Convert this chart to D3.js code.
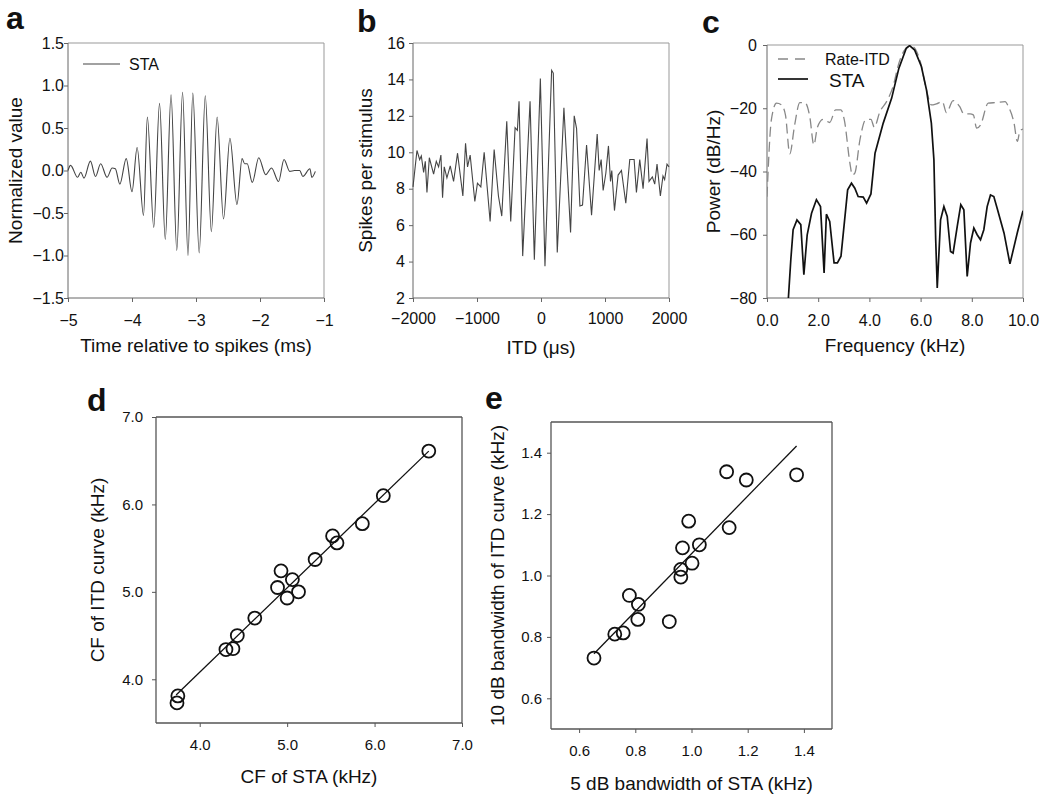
<!DOCTYPE html>
<html>
<head>
<meta charset="utf-8">
<script src="https://cdn.jsdelivr.net/npm/d3@7"></script>
<style>
  body { margin: 0; background: #fff; }
  svg text { font-family: Arial, "Liberation Sans", sans-serif; fill: #111; }
</style>
</head>
<body>
<svg id="fig" width="1050" height="795"></svg>
<script>
// panel a: spike-triggered average, [time ms, normalized value]
var staWave = [
  [-5.0, 0.0], [-4.96, 0.06], [-4.85, -0.08], [-4.80, -0.02], [-4.75, -0.09], [-4.65, 0.11],
  [-4.57, -0.07], [-4.49, 0.08], [-4.39, -0.08], [-4.31, 0.03], [-4.26, 0.02], [-4.19, -0.16],
  [-4.09, 0.14], [-4.00, -0.25], [-3.92, 0.27], [-3.82, -0.53], [-3.76, 0.63], [-3.66, -0.67],
  [-3.57, 0.79], [-3.48, -0.81], [-3.39, 0.89], [-3.30, -0.94], [-3.21, 0.92], [-3.125, -1.0],
  [-3.05, 0.91], [-2.95, -0.97], [-2.855, 0.88], [-2.76, -0.72], [-2.67, 0.63], [-2.57, -0.57],
  [-2.47, 0.38], [-2.36, -0.40], [-2.28, 0.14], [-2.24, 0.08], [-2.20, 0.08], [-2.12, -0.14],
  [-2.02, 0.15], [-1.91, -0.05], [-1.82, 0.03], [-1.71, -0.13], [-1.625, 0.13], [-1.535, -0.01],
  [-1.46, 0.0], [-1.38, 0.0], [-1.33, -0.07], [-1.22, 0.02], [-1.19, -0.08], [-1.135, -0.01]
];

// panel b: rate-ITD curve, [ITD us, spikes per stimulus]
var rateItd = [
  [-2000, 8.1], [-1938, 10.1], [-1896, 9.6], [-1870, 9.8], [-1834, 8.9], [-1808, 9.5], [-1782, 7.8],
  [-1745, 9.7], [-1678, 8.8], [-1636, 9.5], [-1600, 9.2], [-1564, 9.85], [-1538, 7.5], [-1512, 9.2],
  [-1470, 8.6], [-1418, 9.25], [-1366, 8.4], [-1304, 9.95], [-1221, 7.6], [-1179, 10.5], [-1148, 9.2],
  [-1107, 9.85], [-1034, 7.3], [-993, 8.3], [-940, 8.1], [-888, 10.0], [-795, 6.2], [-732, 10.15],
  [-665, 7.6], [-613, 6.5], [-535, 11.7], [-473, 6.2], [-405, 11.35], [-369, 11.2], [-343, 12.8],
  [-286, 4.3], [-171, 12.8], [-104, 4.1], [-10, 14.05], [62, 3.75], [166, 14.5], [192, 14.35],
  [254, 4.5], [358, 12.45], [462, 5.6], [519, 12.0], [556, 11.3], [608, 7.05], [649, 7.1],
  [712, 10.4], [790, 6.55], [878, 11.0], [909, 9.0], [940, 9.6], [971, 7.9], [1013, 8.85],
  [1054, 10.35], [1086, 8.4], [1106, 9.0], [1148, 6.8], [1205, 8.75], [1257, 9.0], [1325, 7.2],
  [1387, 9.6], [1455, 9.6], [1491, 7.8], [1543, 9.6], [1595, 8.0], [1657, 10.75], [1688, 8.4],
  [1740, 8.65], [1777, 8.25], [1813, 9.35], [1865, 7.6], [1906, 8.7], [1932, 8.5], [1969, 9.35],
  [2000, 9.2]
];

// panel c: power spectra, [kHz, dB/Hz]
var specRate = [
  [0, -48], [0.17, -23.7], [0.37, -18.4], [0.56, -18.9], [0.72, -22.1], [0.89, -34.4], [1.08, -25.3],
  [1.28, -18.2], [1.48, -18.2], [1.67, -22.6], [1.83, -31.6], [1.97, -26], [2.19, -23.5], [2.45, -24.5],
  [2.68, -20.5], [2.89, -20.5], [3.02, -23.7], [3.24, -37.4], [3.33, -41.1], [3.43, -40.5], [3.63, -30],
  [3.85, -23.7], [4.06, -23.5], [4.19, -26], [4.41, -21.1], [4.67, -17.9], [4.92, -13.2], [5.15, -5.8],
  [5.51, -0.5], [5.64, -0.3], [5.97, -4.7], [6.23, -14.2], [6.42, -18.95], [6.62, -18.6], [6.85, -17.9],
  [7.01, -21.4], [7.27, -17.6], [7.53, -19.5], [7.69, -21.8], [7.93, -21.8], [8.06, -22.1], [8.19, -26.3],
  [8.34, -25.3], [8.64, -18.4], [8.97, -18.2], [9.30, -17.9], [9.43, -19.5], [9.65, -24.7], [9.78, -30.5],
  [9.88, -27.1], [10, -26.6]
];
var specSta = [
  [0.82, -82], [0.93, -67.9], [1.02, -58.4], [1.17, -55.3], [1.32, -56.8], [1.44, -72.6], [1.57, -60],
  [1.74, -53.2], [1.93, -48.9], [2.09, -51.1], [2.23, -72.1], [2.32, -53.5], [2.45, -55.8], [2.62, -68.9],
  [2.75, -68.9], [2.89, -66.8], [3.15, -45.8], [3.30, -43.7], [3.43, -45.3], [3.56, -47.9], [3.76, -48.1],
  [3.89, -50], [4.06, -47.1], [4.22, -34.2], [4.54, -24.7], [4.87, -16.8], [5.15, -7.4], [5.44, -1.05],
  [5.57, -0.2], [5.77, -1.6], [6.03, -6.8], [6.23, -14.2], [6.42, -24.7], [6.52, -36.3], [6.59, -61.6],
  [6.65, -76.8], [6.78, -55.3], [6.91, -51.1], [7.04, -54.2], [7.17, -65.3], [7.27, -65.8], [7.43, -57.4],
  [7.57, -50.5], [7.69, -52.1], [7.82, -73.2], [7.95, -62.6], [8.08, -57.9], [8.21, -60], [8.34, -61.6],
  [8.47, -58.4], [8.60, -51.1], [8.73, -47.4], [8.86, -47.9], [8.99, -51.6], [9.26, -59.5], [9.49, -69.2],
  [9.78, -59.3], [10, -52.4]
];

// panel d: CF of STA vs CF of ITD curve (kHz)
var cfSta = [3.75, 3.74, 4.30, 4.38, 4.43, 4.63, 4.89, 4.93, 5.00, 5.06, 5.13, 5.32, 5.52, 5.57, 5.86, 6.10, 6.62];
var cfItd = [3.81, 3.73, 4.34, 4.35, 4.50, 4.70, 5.05, 5.24, 4.93, 5.14, 5.00, 5.37, 5.64, 5.56, 5.78, 6.10, 6.61];
var cfFit = [[3.73, 3.82], [6.62, 6.61]];

// panel e: 5 dB bandwidth of STA vs 10 dB bandwidth of ITD curve (kHz)
var bwSta = [0.653, 0.727, 0.757, 0.779, 0.811, 0.809, 0.921, 0.962, 0.962, 0.968, 0.990, 1.002, 1.028, 1.125, 1.134, 1.195, 1.374];
var bwItd = [0.731, 0.809, 0.813, 0.935, 0.906, 0.857, 0.850, 0.995, 1.020, 1.090, 1.177, 1.040, 1.100, 1.338, 1.156, 1.311, 1.328];
var bwFit = [[0.653, 0.745], [1.374, 1.422]];

var ticksA = {x: [-5, -4, -3, -2, -1], y: [-1.5, -1.0, -0.5, 0.0, 0.5, 1.0, 1.5]};
var ticksB = {x: [-2000, -1000, 0, 1000, 2000], y: [2, 4, 6, 8, 10, 12, 14, 16]};
var ticksC = {x: [0, 2, 4, 6, 8, 10], y: [-80, -60, -40, -20, 0]};
var ticksD = {x: [4, 5, 6, 7], y: [4, 5, 6, 7]};
var ticksE = {x: [0.6, 0.8, 1.0, 1.2, 1.4], y: [0.6, 0.8, 1.0, 1.2, 1.4]};

var svg = d3.select("#fig");

// one framed panel with axes; returns the scales
function panel(o) {
  var g = svg.append("g");
  var x = d3.scaleLinear().domain(o.xDomain).range([o.left, o.right]);
  var y = d3.scaleLinear().domain(o.yDomain).range([o.bottom, o.top]);

  var ax = g.append("g").attr("transform", "translate(0," + o.bottom + ")")
    .call(d3.axisBottom(x).tickValues(o.ticks.x).tickFormat(o.xFmt).tickSize(4).tickPadding(o.xPad));
  var ay = g.append("g").attr("transform", "translate(" + o.left + ",0)")
    .call(d3.axisLeft(y).tickValues(o.ticks.y).tickFormat(o.yFmt).tickSize(4).tickPadding(o.yPad));
  [ax, ay].forEach(function(a) {
    a.select(".domain").remove();
    a.selectAll("line").attr("stroke", o.frame);
    a.selectAll("text").attr("font-size", o.tickFont).attr("fill", "#111")
      .attr("font-family", "Arial, 'Liberation Sans', sans-serif");
  });

  // frame: left/bottom darker, top/right as given
  g.append("line").attr("x1", o.left).attr("x2", o.right).attr("y1", o.top).attr("y2", o.top)
    .attr("stroke", o.frame2).attr("stroke-width", o.frameW);
  g.append("line").attr("x1", o.right).attr("x2", o.right).attr("y1", o.top).attr("y2", o.bottom)
    .attr("stroke", o.frame2).attr("stroke-width", o.frameW);
  g.append("line").attr("x1", o.left).attr("x2", o.right).attr("y1", o.bottom).attr("y2", o.bottom)
    .attr("stroke", o.frame).attr("stroke-width", o.frameW);
  g.append("line").attr("x1", o.left).attr("x2", o.left).attr("y1", o.top).attr("y2", o.bottom)
    .attr("stroke", o.frame).attr("stroke-width", o.frameW);

  // titles
  g.append("text").attr("x", (o.left + o.right) / 2).attr("y", o.xTitleY).attr("dy", "0.35em")
    .attr("text-anchor", "middle").attr("font-size", o.titleFont).text(o.xTitle);
  g.append("text").attr("transform", "translate(" + o.yTitleX + "," + ((o.top + o.bottom) / 2) + ") rotate(-90)")
    .attr("dy", "0.35em").attr("text-anchor", "middle").attr("font-size", o.titleFont).text(o.yTitle);

  g.append("text").attr("x", o.letter[0]).attr("y", o.letter[1])
    .attr("font-size", 32).attr("font-weight", "bold").attr("fill", "#000").text(o.letterText);

  g.append("clipPath").attr("id", "clip-" + o.letterText)
    .append("rect").attr("x", o.left).attr("y", o.top)
    .attr("width", o.right - o.left).attr("height", o.bottom - o.top);

  return {g: g, x: x, y: y};
}

var fmt1 = d3.format(".1f");

// ---- a ----
var pa = panel({
  left: 68, right: 324, top: 43, bottom: 298,
  xDomain: [-5, -1], yDomain: [-1.5, 1.5], ticks: ticksA,
  xFmt: d3.format("d"), yFmt: fmt1, xPad: 13, yPad: 0,
  tickFont: 16, titleFont: 19, frame: "#666", frame2: "#999", frameW: 1,
  xTitle: "Time relative to spikes (ms)", xTitleY: 345,
  yTitle: "Normalized value", yTitleX: 15,
  letter: [6, 29], letterText: "a"
});
pa.g.append("path").datum(staWave)
  .attr("fill", "none").attr("stroke", "#444").attr("stroke-width", 1.1)
  .attr("d", d3.line().x(function(d) { return pa.x(d[0]); }).y(function(d) { return pa.y(d[1]); })
    .curve(d3.curveMonotoneX));
pa.g.append("line").attr("x1", 83).attr("x2", 120).attr("y1", 64).attr("y2", 64)
  .attr("stroke", "#444").attr("stroke-width", 1.1);
pa.g.append("text").attr("x", 129).attr("y", 64).attr("dy", "0.35em").attr("font-size", 16).text("STA");

// ---- b ----
var pb = panel({
  left: 413, right: 669, top: 43, bottom: 298,
  xDomain: [-2000, 2000], yDomain: [2, 16], ticks: ticksB,
  xFmt: d3.format("d"), yFmt: d3.format("d"), xPad: 11, yPad: 4,
  tickFont: 16, titleFont: 19, frame: "#666", frame2: "#999", frameW: 1,
  xTitle: "ITD (\u03bcs)", xTitleY: 347,
  yTitle: "Spikes per stimulus", yTitleX: 365,
  letter: [357, 32], letterText: "b"
});
pb.g.append("path").datum(rateItd)
  .attr("fill", "none").attr("stroke", "#444").attr("stroke-width", 1.1)
  .attr("d", d3.line().x(function(d) { return pb.x(d[0]); }).y(function(d) { return pb.y(d[1]); }));

// ---- c ----
var pc = panel({
  left: 767, right: 1023, top: 45, bottom: 298,
  xDomain: [0, 10], yDomain: [-80, 0], ticks: ticksC,
  xFmt: fmt1, yFmt: d3.format("d"), xPad: 13, yPad: 6,
  tickFont: 16, titleFont: 19, frame: "#666", frame2: "#999", frameW: 1,
  xTitle: "Frequency (kHz)", xTitleY: 345,
  yTitle: "Power (dB/Hz)", yTitleX: 713,
  letter: [702, 33], letterText: "c"
});
var lineC = d3.line().x(function(d) { return pc.x(d[0]); }).y(function(d) { return pc.y(d[1]); });
pc.g.append("path").datum(specRate)
  .attr("clip-path", "url(#clip-c)")
  .attr("fill", "none").attr("stroke", "#888").attr("stroke-width", 1.3).attr("stroke-dasharray", "10,5")
  .attr("d", lineC.curve(d3.curveMonotoneX));
pc.g.append("path").datum(specSta)
  .attr("clip-path", "url(#clip-c)")
  .attr("fill", "none").attr("stroke", "#111").attr("stroke-width", 1.7)
  .attr("d", lineC.curve(d3.curveLinear));
pc.g.append("line").attr("x1", 778).attr("x2", 807).attr("y1", 59).attr("y2", 59)
  .attr("stroke", "#888").attr("stroke-width", 1.3).attr("stroke-dasharray", "10,7");
pc.g.append("text").attr("x", 825).attr("y", 59).attr("dy", "0.35em").attr("font-size", 16).text("Rate-ITD");
pc.g.append("line").attr("x1", 778).attr("x2", 808).attr("y1", 79).attr("y2", 79)
  .attr("stroke", "#111").attr("stroke-width", 1.7);
pc.g.append("text").attr("x", 829).attr("y", 80).attr("dy", "0.35em").attr("font-size", 19).text("STA");

// ---- d ----
var pd = panel({
  left: 156, right: 462, top: 417, bottom: 723,
  xDomain: [3.5, 7.0], yDomain: [3.5, 7.0], ticks: ticksD,
  xFmt: fmt1, yFmt: fmt1, xPad: 12, yPad: 9,
  tickFont: 15, titleFont: 19, frame: "#555", frame2: "#555", frameW: 1.3,
  xTitle: "CF of STA (kHz)", xTitleY: 776,
  yTitle: "CF of ITD curve (kHz)", yTitleX: 97,
  letter: [87, 411], letterText: "d"
});
pd.g.append("line")
  .attr("x1", pd.x(cfFit[0][0])).attr("y1", pd.y(cfFit[0][1]))
  .attr("x2", pd.x(cfFit[1][0])).attr("y2", pd.y(cfFit[1][1]))
  .attr("stroke", "#111").attr("stroke-width", 1.3);
pd.g.selectAll("circle.pt").data(cfSta).enter().append("circle").attr("class", "pt")
  .attr("cx", function(d) { return pd.x(d); })
  .attr("cy", function(d, i) { return pd.y(cfItd[i]); })
  .attr("r", 6.5).attr("fill", "none").attr("stroke", "#111").attr("stroke-width", 1.8);

// ---- e ----
var pe = panel({
  left: 551, right: 832, top: 422, bottom: 729,
  xDomain: [0.5, 1.5], yDomain: [0.5, 1.5], ticks: ticksE,
  xFmt: fmt1, yFmt: fmt1, xPad: 12, yPad: 5,
  tickFont: 15, titleFont: 19, frame: "#555", frame2: "#555", frameW: 1.3,
  xTitle: "5 dB bandwidth of STA (kHz)", xTitleY: 783,
  yTitle: "10 dB bandwidth of ITD curve (kHz)", yTitleX: 497,
  letter: [485, 409], letterText: "e"
});
pe.g.append("line")
  .attr("x1", pe.x(bwFit[0][0])).attr("y1", pe.y(bwFit[0][1]))
  .attr("x2", pe.x(bwFit[1][0])).attr("y2", pe.y(bwFit[1][1]))
  .attr("stroke", "#111").attr("stroke-width", 1.3);
pe.g.selectAll("circle.pt").data(bwSta).enter().append("circle").attr("class", "pt")
  .attr("cx", function(d) { return pe.x(d); })
  .attr("cy", function(d, i) { return pe.y(bwItd[i]); })
  .attr("r", 6.5).attr("fill", "none").attr("stroke", "#111").attr("stroke-width", 1.8);
</script>
</body>
</html>
